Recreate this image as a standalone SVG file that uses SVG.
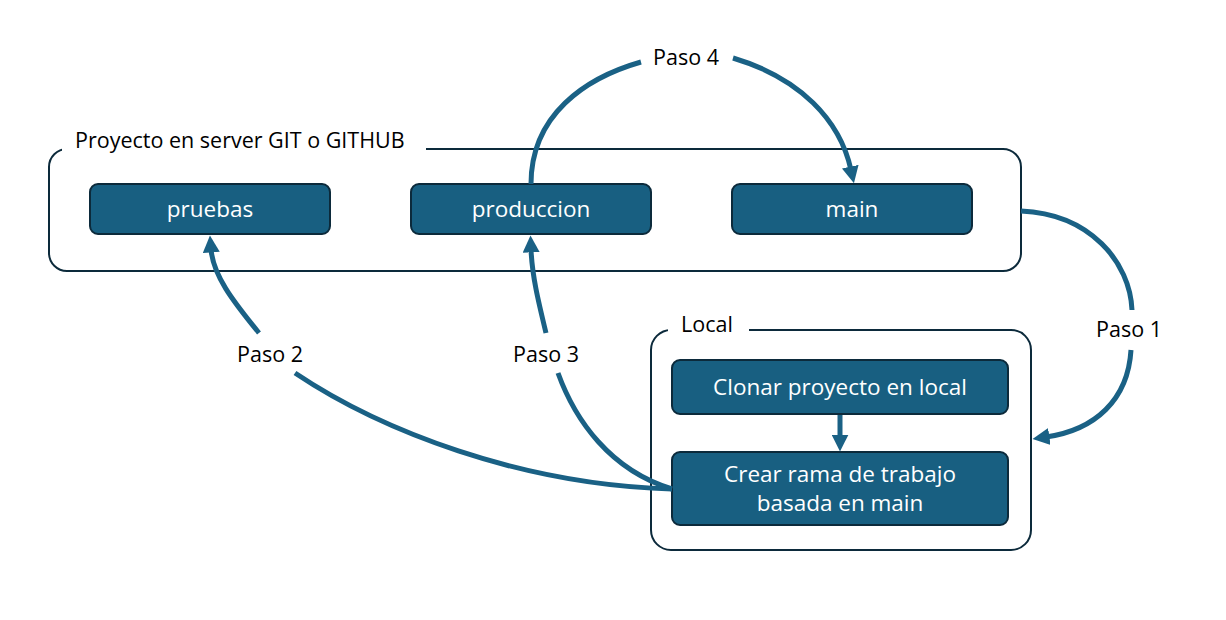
<svg xmlns="http://www.w3.org/2000/svg" width="1226" height="620" viewBox="0 0 1226 620">
<style>
.grp{fill:#ffffff;stroke:#0c2a3b;stroke-width:2}
.node{fill:#185f81;stroke:#0c2a3b;stroke-width:2}
.nt{fill:#ffffff;font-family:"Open Sans","Liberation Sans",Arial,sans-serif;font-size:22.5px;text-anchor:middle}
.lbl{fill:#000000;font-family:"Open Sans","Liberation Sans",Arial,sans-serif;font-size:21.5px}
.conn{fill:none;stroke:#1a6185;stroke-width:5}
</style>
<defs>
<marker id="ah" viewBox="0 0 10 10" refX="2" refY="5" markerWidth="3.4" markerHeight="3.4" orient="auto" markerUnits="strokeWidth">
<path d="M0,0 L10,5 L0,10 z" fill="#1a6185"/>
</marker>
</defs>
<rect width="1226" height="620" fill="#ffffff"/>
<g id="proyecto">
<rect class="grp" x="49" y="149" width="972" height="122" rx="18"/>
<rect x="62" y="140" width="364" height="16" fill="#ffffff"/>
<text class="lbl" x="75" y="148">Proyecto en server GIT o GITHUB</text>
</g>
<g id="local">
<rect class="grp" x="651" y="330" width="380" height="220" rx="20"/>
<rect x="668" y="320" width="81" height="16" fill="#ffffff"/>
<text class="lbl" x="681" y="332">Local</text>
</g>
<g id="pruebas">
<rect class="node" x="90" y="184" width="240" height="50" rx="8"/>
<text class="nt" x="210" y="217">pruebas</text>
</g>
<g id="produccion">
<rect class="node" x="411" y="184" width="240" height="50" rx="8"/>
<text class="nt" x="531" y="217">produccion</text>
</g>
<g id="main">
<rect class="node" x="732" y="184" width="240" height="50" rx="8"/>
<text class="nt" x="852" y="217">main</text>
</g>
<g id="clonar">
<rect class="node" x="672" y="360" width="336" height="54" rx="8"/>
<text class="nt" x="840" y="395">Clonar proyecto en local</text>
</g>
<g id="crear">
<rect class="node" x="672" y="452" width="336" height="73" rx="8"/>
<text class="nt" x="840" y="482">Crear rama de trabajo</text>
<text class="nt" x="840" y="511">basada en main</text>
</g>
<g id="connectors">
<path class="conn" d="M1021,211 C1090,214 1130,262 1132,310"/>
<path class="conn" d="M1131,350 C1128,400 1095,430 1046,437" marker-end="url(#ah)"/>
<text class="lbl" x="1129" y="337" text-anchor="middle">Paso 1</text>
<path class="conn" d="M672,489 C520,485 380,430 295,373"/>
<path class="conn" d="M259,333 C232,300 213,275 211,249" marker-end="url(#ah)"/>
<text class="lbl" x="270" y="362" text-anchor="middle">Paso 2</text>
<path class="conn" d="M672,489 C610,470 575,420 558,373"/>
<path class="conn" d="M546,333 C538,300 532,275 531,249" marker-end="url(#ah)"/>
<text class="lbl" x="546" y="362" text-anchor="middle">Paso 3</text>
<path class="conn" d="M531,184 C531,115 585,78 641,62"/>
<path class="conn" d="M733,58 C800,78 840,120 851,170" marker-end="url(#ah)"/>
<text class="lbl" x="686" y="65" text-anchor="middle">Paso 4</text>
<path class="conn" d="M840,415 L840,438" marker-end="url(#ah)"/>
</g>
</svg>
